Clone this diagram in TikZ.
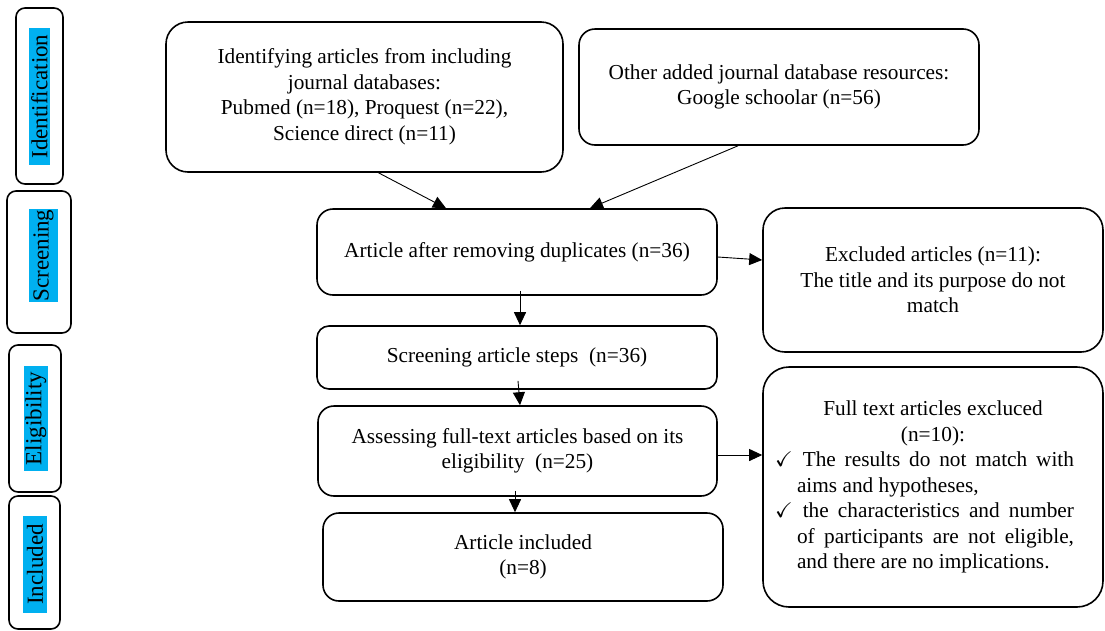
\documentclass[tikz,border=0pt]{standalone}
\usepackage{amssymb}
\usepackage{fontspec}
\setmainfont{Liberation Serif}
\usetikzlibrary{arrows.meta}
\definecolor{stageblue}{HTML}{00B0F0}

\begin{document}
\begin{tikzpicture}[x=1pt,y=-1pt,>={Triangle[length=13pt,width=12pt]},
    box/.style={draw,line width=1.6pt,rounded corners=16pt,align=center,inner sep=4pt,
      font=\fontsize{21.3}{25.5}\selectfont},
    stageframe/.style={draw,line width=1.6pt,rounded corners=9pt,inner sep=0pt},
    stage/.style={rotate=90,fill=stageblue,inner sep=0pt,font=\fontsize{23}{23}\selectfont},
    link/.style={->,line width=0.9pt}]
        \useasboundingbox (0,0) rectangle (1105,630);

        \node[stageframe,minimum width=47,minimum height=176] (idframe) at (39.5,96) {};
        \node[stage,minimum width=137,minimum height=21] (idlabel) at (39.5,96.5) {Identification};

        \node[stageframe,minimum width=64,minimum height=142] (scrframe) at (39,262) {};
        \node[stage,minimum width=93,minimum height=29] (scrlabel) at (43.5,255.5) {Screening};

        \node[stageframe,minimum width=52,minimum height=147] (eliframe) at (35,418.5) {};
        \node[stage,minimum width=105,minimum height=24] (elilabel) at (36,418.5) {Eligibility};

        \node[stageframe,minimum width=51,minimum height=133] (incframe) at (34.5,562.5) {};
        \node[stage,minimum width=97,minimum height=24] (inclabel) at (35,564.5) {Included};

        \node[box,minimum width=397,minimum height=150,rounded corners=22pt] (ident) at (364.5,97)
            {Identifying articles from including\\journal databases:\\Pubmed (n=18), Proquest (n=22),\\Science direct (n=11)};
        \node[box,minimum width=400,minimum height=116] (other) at (779,87)
            {Other added journal database resources:\\Google schoolar (n=56)};

        \node[box,minimum width=400,minimum height=86] (dup) at (517,252)
            {Article after removing duplicates (n=36)};
        \node[box,minimum width=400,minimum height=63,rounded corners=12pt] (screen) at (517,357.5)
            {Screening article steps~ (n=36)};
        \node[box,minimum width=399,minimum height=90] (assess) at (517.5,451)
            {Assessing full-text articles based on its\\eligibility~ (n=25)};
        \node[box,minimum width=400,minimum height=88] (incl) at (523,557)
            {Article included\\(n=8)};

        \node[box,minimum width=340,minimum height=144,rounded corners=22pt] (excl) at (933,280)
            {Excluded articles (n=11):\\The title and its purpose do not\\match};
        \node[box,text width=326pt,align=justify,minimum height=240,inner sep=7pt,rounded corners=26pt] (fullexcl) at (933,487) {%
            {\centering Full text articles excluced\par (n=10):\par}
            \begin{list}{$\checkmark$}{\setlength{\leftmargin}{27pt}\setlength{\rightmargin}{22pt}%
              \setlength{\labelwidth}{12pt}\setlength{\labelsep}{10pt}\setlength{\itemsep}{0pt}%
              \setlength{\topsep}{0pt}\setlength{\parsep}{0pt}\setlength{\partopsep}{0pt}}
            \item The results do not match with\linebreak aims and hypotheses,
            \item the characteristics and number\linebreak of participants are not eligible,\linebreak and there are no implications.
            \end{list}};

        \draw[link] ([xshift=14pt]ident.south) -- ([xshift=-71pt]dup.north);
        \draw[link] ([xshift=-41pt]other.south) -- ([xshift=73pt]dup.north);
        \draw[link] ([yshift=-5pt]dup.east) -- ([yshift=20pt]excl.west);
        \draw[link] ([xshift=3pt,yshift=5pt]dup.south) -- ([xshift=3pt]screen.north);
        \draw[link] ([xshift=1pt,yshift=9pt]screen.south) -- ([xshift=2.5pt]assess.north);
        \draw[link] ([yshift=-4pt]assess.east) -- ([yshift=32pt]fullexcl.west);
        \draw[link] ([xshift=-2.5pt,yshift=6pt]assess.south) -- ([xshift=-8pt]incl.north);
\end{tikzpicture}
\end{document}
